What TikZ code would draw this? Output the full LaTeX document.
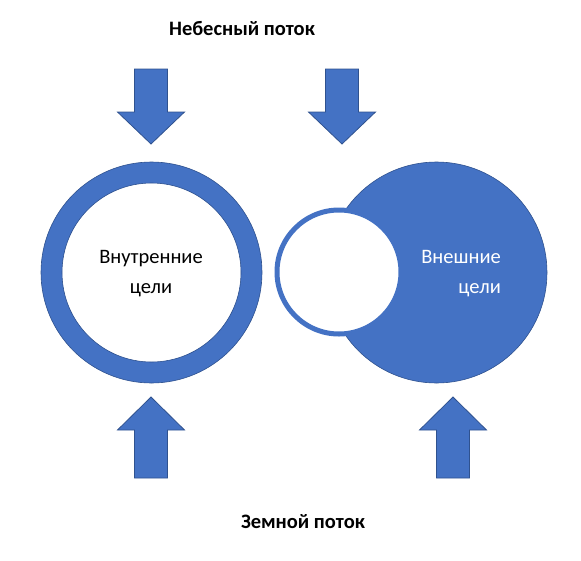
\documentclass[tikz,border=0pt]{standalone}
\usepackage{fontspec}
\setmainfont{Carlito}
\usepackage{tikz}
\usetikzlibrary{positioning, calc}
\definecolor{officeblue}{HTML}{4472C4}
\definecolor{officeedge}{HTML}{2F528F}

\begin{document}
\begin{tikzpicture}[x=1pt, y=-1pt,
    flowarrow/.style={fill=officeblue, draw=officeedge, line width=0.8pt},
    goaltext/.style={font=\fontsize{20.5}{30}\selectfont, inner sep=0pt},
    flowtitle/.style={font=\fontsize{20.5}{24}\selectfont\bfseries, inner sep=0pt}]
    \useasboundingbox (0,0) rectangle (581,560);

    % Flows
    \node[flowtitle] (sky) at (242,29) {Небесный поток};
    \node[flowtitle] (earth) at (303,522) {Земной поток};

    % Arrows from above
    \foreach \cx in {151,342} {
        \draw[flowarrow] (\cx-16.5,69) -- (\cx+16.5,69) -- (\cx+16.5,112) -- (\cx+33.5,112)
            -- (\cx,144) -- (\cx-33.5,112) -- (\cx-16.5,112) -- cycle;
    }
    % Arrows from below
    \foreach \cx in {151,453} {
        \draw[flowarrow] (\cx,397) -- (\cx+33.5,430) -- (\cx+16.5,430) -- (\cx+16.5,478)
            -- (\cx-16.5,478) -- (\cx-16.5,430) -- (\cx-33.5,430) -- cycle;
    }

    % Inner goals ring
    \fill[officeblue, even odd rule] (151.5,272.5) circle (110.5) (151.5,272.5) circle (89.5);
    \draw[officeedge, line width=0.6pt] (151.5,272.5) circle (110.5) (151.5,272.5) circle (89.5);
    \node[goaltext, align=center] (inner) at (151,274) {Внутренние\\цели};

    % Outer goals
    \draw[fill=officeblue, draw=officeedge, line width=0.6pt] (436.5,272.5) circle (110.5);
    \draw[fill=white, draw=officeblue, line width=5pt] (339,272) circle (62);
    \node[goaltext, align=right, text=white, anchor=east] (outer) at (501,274) {Внешние\\цели};
\end{tikzpicture}
\end{document}
